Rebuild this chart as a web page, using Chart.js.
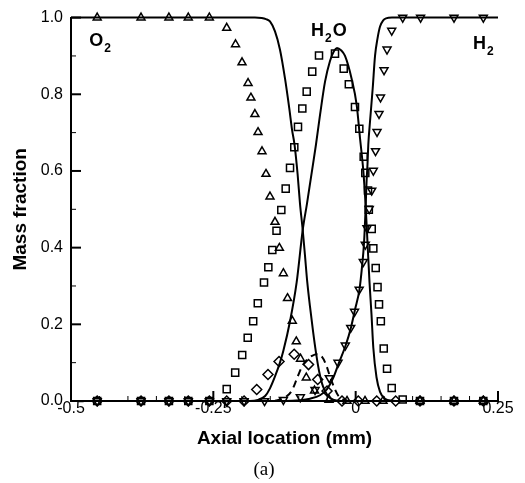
<!DOCTYPE html>
<html><head><meta charset="utf-8">
<script src="https://cdn.jsdelivr.net/npm/chart.js@4.4.0/dist/chart.umd.min.js"></script>
<style>html,body{margin:0;padding:0;background:#fff}canvas{display:block}</style>
</head><body>
<canvas id="c" width="525" height="483"></canvas>
<script>
// ---------- symbols (measured) ----------
const o2SymX = [-0.454,-0.377,-0.328,-0.294,-0.257,-0.2265,-0.211,-0.1996,-0.189,-0.184,-0.177,-0.1715,-0.1645,-0.1575,-0.1505,-0.1417,-0.134,-0.127,-0.1197,-0.1113,-0.1043,-0.0969,-0.0867,-0.0723,-0.0468,-0.0152,0.0164,0.048,0.113,0.1727,0.2242];
const o2SymY = [1,1,1,1,1,0.973,0.930,0.883,0.829,0.791,0.748,0.701,0.651,0.592,0.533,0.467,0.399,0.333,0.268,0.209,0.155,0.110,0.061,0.027,0.003,0,0,0,0,0,0];

const h2oSymX = [-0.454,-0.377,-0.328,-0.294,-0.257,-0.2265,-0.2116,-0.1993,-0.1896,-0.180,-0.1719,-0.161,-0.1534,-0.1464,-0.139,-0.1306,-0.1229,-0.1153,-0.1078,-0.1013,-0.0937,-0.086,-0.0763,-0.0644,-0.0363,-0.021,-0.012,-0.0012,0.0064,0.0141,0.0169,0.0217,0.0231,0.0282,0.031,0.0352,0.0384,0.041,0.0442,0.0493,0.0551,0.0633,0.0826,0.113,0.1727,0.2242];
const h2oSymY = [0,0,0,0,0,0.031,0.074,0.120,0.165,0.208,0.255,0.309,0.349,0.394,0.444,0.498,0.554,0.608,0.662,0.715,0.763,0.807,0.859,0.901,0.906,0.867,0.826,0.767,0.710,0.637,0.595,0.549,0.499,0.449,0.398,0.347,0.297,0.252,0.208,0.137,0.084,0.034,0.004,0,0,0];

const h2SymX = [-0.454,-0.377,-0.328,-0.294,-0.257,-0.2265,-0.196,-0.160,-0.127,-0.0972,-0.0714,-0.0463,-0.031,-0.0182,-0.0087,-0.002,0.0062,0.0134,0.0169,0.0199,0.0238,0.0282,0.031,0.0349,0.0375,0.041,0.0436,0.0498,0.0551,0.0633,0.0826,0.114,0.1727,0.2242];
const h2SymY = [0,0,0,0,0,0,0,0,0.003,0.010,0.029,0.060,0.100,0.145,0.191,0.233,0.291,0.363,0.408,0.451,0.501,0.549,0.601,0.652,0.702,0.749,0.792,0.863,0.917,0.966,1,1,1,1];

const minorSymX = [-0.454,-0.377,-0.328,-0.294,-0.257,-0.2265,-0.196,-0.1738,-0.154,-0.1346,-0.108,-0.0828,-0.0667,-0.0503,-0.024,0.0046,0.037,0.0703,0.113,0.1727,0.2242];
const minorSymY = [0,0,0,0,0,0,0,0.030,0.069,0.103,0.122,0.095,0.056,0.026,0,0,0,0,0,0,0];

// ---------- model curves ----------
const o2LineX = [-0.5,-0.177,-0.165,-0.1575,-0.1505,-0.1417,-0.133,-0.124,-0.1166,-0.1118,-0.1074,-0.102,-0.0978,-0.093,-0.089,-0.085,-0.0802,-0.0749,-0.0697,-0.0644,-0.0574,-0.0486,-0.038,-0.024,0.25];
const o2LineY = [1,1,0.999,0.996,0.99,0.964,0.917,0.840,0.763,0.708,0.669,0.592,0.515,0.446,0.379,0.310,0.246,0.182,0.126,0.079,0.038,0.013,0.003,0,0];

const h2oLineX = [-0.5,-0.186,-0.1715,-0.159,-0.1505,-0.1417,-0.133,-0.127,-0.1153,-0.1036,-0.093,-0.0855,-0.0776,-0.0697,-0.0626,-0.0538,-0.0451,-0.038,-0.0328,-0.0257,-0.0187,-0.007,0.0018,0.0076,0.0134,0.0173,0.0208,0.0243,0.0278,0.031,0.0366,0.0428,0.0515,0.0638,0.0779,0.25];
const h2oLineY = [0,0,0.003,0.013,0.033,0.064,0.100,0.131,0.208,0.310,0.446,0.515,0.592,0.669,0.746,0.833,0.887,0.913,0.921,0.915,0.900,0.840,0.772,0.686,0.601,0.515,0.413,0.310,0.226,0.139,0.062,0.024,0.006,0.001,0,0];

const h2LineX = [-0.5,-0.124,-0.0978,-0.0802,-0.0626,-0.0503,-0.0398,-0.0293,-0.0178,-0.0082,-0.0012,0.0068,0.0111,0.0147,0.0173,0.019,0.0208,0.0222,0.0252,0.0299,0.034,0.0384,0.0428,0.048,0.0533,0.0638,0.25];
const h2LineY = [0,0,0.002,0.006,0.015,0.031,0.059,0.100,0.144,0.192,0.238,0.292,0.349,0.413,0.497,0.567,0.618,0.669,0.729,0.815,0.900,0.946,0.977,0.992,0.998,1,1];

const minorLineX = [-0.5,-0.1505,-0.133,-0.1206,-0.1118,-0.103,-0.0942,-0.0855,-0.0767,-0.0679,-0.0591,-0.0521,-0.0451,-0.038,-0.031,-0.0222,-0.0099,0.25];
const minorLineY = [0,0,0.004,0.013,0.028,0.059,0.090,0.108,0.118,0.122,0.115,0.095,0.064,0.036,0.015,0.004,0,0];

// ---------- axes ----------
const xMin = -0.5, xMax = 0.25, xStep = 0.05, xLabelStep = 0.25;
const yMin = 0, yMax = 1, yStep = 0.1, yLabelStep = 0.2;

const FONT = "'Liberation Sans', Arial, Helvetica, sans-serif";
const pts = (xs, ys) => xs.map((x, i) => ({x, y: ys[i]}));
const isMult = (v, s) => Math.abs(v / s - Math.round(v / s)) < 1e-6;

const symStyle = (style, rot, r) => ({
  showLine: false, pointStyle: style, rotation: rot, pointRadius: r,
  pointBorderColor: '#000', pointBackgroundColor: 'rgba(0,0,0,0)', pointBorderWidth: 1.5, clip: false
});
const lineStyle = (dash) => ({
  showLine: true, pointRadius: 0, borderColor: '#000', borderWidth: 2, borderDash: dash, tension: 0.35, cubicInterpolationMode: 'monotone', clip: false, fill: false
});

const inwardTicks = {
  id: 'inwardTicks',
  beforeDatasetsDraw(chart) {
    const {ctx, chartArea: a, scales: {x, y}} = chart;
    ctx.save();
    ctx.strokeStyle = '#000';
    x.ticks.forEach(t => {
      const p = x.getPixelForValue(t.value);
      const major = isMult(t.value, xLabelStep);
      ctx.lineWidth = major ? 2 : 1;
      ctx.beginPath(); ctx.moveTo(p, a.bottom); ctx.lineTo(p, a.bottom - (major ? 10 : 5)); ctx.stroke();
    });
    y.ticks.forEach(t => {
      const p = y.getPixelForValue(t.value);
      const major = isMult(t.value, yLabelStep);
      ctx.lineWidth = major ? 2 : 1;
      ctx.beginPath(); ctx.moveTo(a.left, p); ctx.lineTo(a.left + (major ? 10 : 5), p); ctx.stroke();
    });
    ctx.restore();
  }
};

const textLabels = {
  id: 'textLabels',
  afterDraw(chart, args, opts) {
    const {ctx, scales: {x, y}} = chart;
    ctx.save();
    ctx.fillStyle = '#000';
    ctx.textBaseline = 'alphabetic';
    ctx.textAlign = 'left';
    opts.species.forEach(s => {
      let px = x.getPixelForValue(s.x);
      const py = y.getPixelForValue(s.y);
      s.parts.forEach(([txt, sub]) => {
        ctx.font = sub ? `bold 12px ${FONT}` : `bold 18px ${FONT}`;
        ctx.fillText(txt, px, py + (sub ? 6 : 0));
        px += ctx.measureText(txt).width + 1;
      });
    });
    ctx.font = "19px 'Liberation Serif', 'Times New Roman', serif";
    ctx.textAlign = 'center';
    ctx.fillText(opts.caption, chart.width / 2 + 1.5, 475);
    ctx.restore();
  }
};

new Chart(document.getElementById('c'), {
  type: 'scatter',
  data: {
    datasets: [
      Object.assign({data: pts(o2LineX, o2LineY)}, lineStyle([])),
      Object.assign({data: pts(h2oLineX, h2oLineY)}, lineStyle([])),
      Object.assign({data: pts(h2LineX, h2LineY)}, lineStyle([])),
      Object.assign({data: pts(minorLineX, minorLineY)}, lineStyle([7, 5])),
      Object.assign({data: pts(o2SymX, o2SymY)}, symStyle('triangle', 0, 4.6)),
      Object.assign({data: pts(h2oSymX, h2oSymY)}, symStyle('rect', 0, 5)),
      Object.assign({data: pts(h2SymX, h2SymY)}, symStyle('triangle', 180, 4.6)),
      Object.assign({data: pts(minorSymX, minorSymY)}, symStyle('rectRot', 0, 5))
    ]
  },
  options: {
    responsive: false,
    animation: false,
    events: [],
    layout: {padding: {left: 5, right: 27, top: 11, bottom: 32}},
    plugins: {
      legend: {display: false},
      tooltip: {enabled: false},
      textLabels: {
        caption: '(a)',
        species: [
          {parts: [['O', 0], ['2', 1]], x: -0.468, y: 0.926},
          {parts: [['H', 0], ['2', 1], ['O', 0]], x: -0.0784, y: 0.951},
          {parts: [['H', 0], ['2', 1]], x: 0.206, y: 0.918}
        ]
      }
    },
    scales: {
      x: {
        type: 'linear', min: xMin, max: xMax,
        grid: {display: false, drawTicks: false},
        border: {display: true, color: '#000', width: 2},
        ticks: {
          stepSize: xStep, autoSkip: false, maxRotation: 0, padding: -2, color: '#000',
          font: {family: FONT, size: 16},
          callback: v => isMult(v, xLabelStep) ? String(Math.round(v * 100) / 100) : ''
        },
        title: {display: true, text: 'Axial location (mm)', color: '#000', font: {family: FONT, size: 19, weight: 'bold'}, padding: {top: 0, bottom: 1}},
        afterFit: s => { s.height = 50; }
      },
      y: {
        type: 'linear', min: yMin, max: yMax,
        grid: {display: false, drawTicks: false},
        border: {display: true, color: '#000', width: 2},
        ticks: {
          stepSize: yStep, autoSkip: false, padding: 8, color: '#000',
          font: {family: FONT, size: 16},
          callback: v => isMult(v, yLabelStep) ? v.toFixed(1) : ''
        },
        title: {display: true, text: 'Mass fraction', color: '#000', font: {family: FONT, size: 19, weight: 'bold'}, padding: {top: 4, bottom: 0}},
        afterFit: s => { s.width = 66; }
      }
    }
  },
  plugins: [inwardTicks, textLabels]
});
</script>
</body></html>
